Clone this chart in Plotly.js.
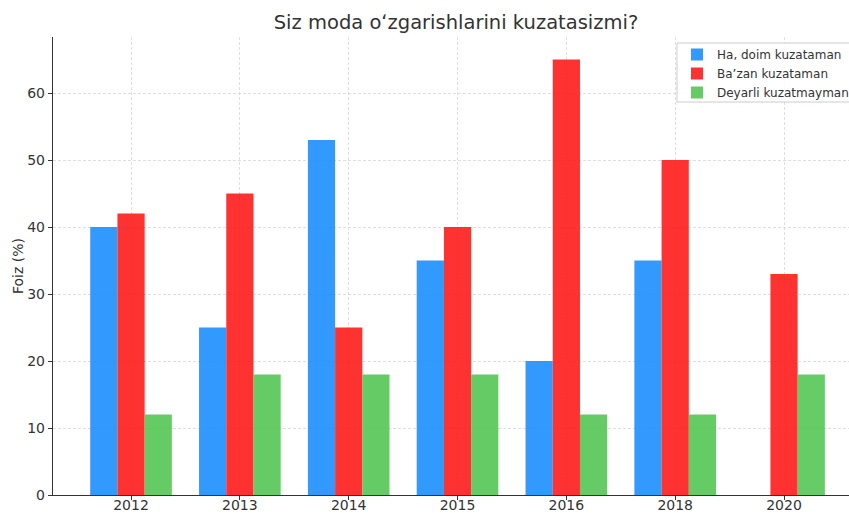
<!DOCTYPE html>
<html>
<head>
<meta charset="utf-8">
<script src="https://cdn.plot.ly/plotly-3.0.1.min.js"></script>
<style>html,body{margin:0;padding:0;background:#fff;}</style>
</head>
<body>
<div id="chart" style="width:849px;height:513px;"></div>
<script>
const years = ["2012", "2013", "2014", "2015", "2016", "2018", "2020"];
const seriesNames = ["Ha, doim kuzataman", "Ba\u2019zan kuzataman", "Deyarli kuzatmayman"];
const always = [40, 25, 53, 35, 20, 35, null];
const sometimes = [42, 45, 25, 40, 65, 50, 33];
const rarely = [12, 18, 18, 18, 12, 12, 18];
const colors = ["#1c8eff", "#ff1c1c", "#55c655"];

const xs = years.map((_, i) => i);
const allSeries = [always, sometimes, rarely];
const traces = allSeries.map((vals, k) => ({
  type: "bar",
  x: xs.map(v => v + (k - 1) * 0.25),
  y: vals,
  width: 0.25,
  name: seriesNames[k],
  opacity: 0.9,
  marker: {color: colors[k], line: {width: 0}},
  hoverinfo: "skip"
}));

const W = 849, H = 513, L = 53, T = 37, B = 18;
const plotH = H - T - B, plotW = W - L;
const font = {family: "DejaVu Sans, sans-serif", color: "#333333", size: 14};
const layout = {
  width: W, height: H,
  margin: {l: L, r: 0, t: T, b: B, autoexpand: false},
  paper_bgcolor: "#ffffff", plot_bgcolor: "#ffffff",
  font: font,
  barmode: "overlay",
  showlegend: true,
  title: {
    text: "Siz moda o\u02bbzgarishlarini kuzatasizmi?",
    font: {family: "DejaVu Sans, sans-serif", size: 19.5, color: "#333333"},
    x: 456 / W, xref: "container", xanchor: "center",
    y: 1 - 22 / H, yref: "container", yanchor: "middle"
  },
  xaxis: {
    range: [-0.717, 6.597],
    tickmode: "array", tickvals: xs, ticktext: years,
    ticks: "outside", ticklen: 4, tickcolor: "#333333",
    ticklabelstandoff: -7,
    showline: true, linecolor: "#333333", linewidth: 1.2,
    showgrid: true, gridcolor: "#d6d6d6", griddash: "3px,2px", gridwidth: 0.8,
    zeroline: false, fixedrange: true,
    tickfont: {size: 14, color: "#333333"}
  },
  yaxis: {
    range: [0, 68.36],
    tickvals: [0, 10, 20, 30, 40, 50, 60],
    ticks: "outside", ticklen: 4, tickcolor: "#333333",
    showline: true, linecolor: "#333333", linewidth: 1.2,
    showgrid: true, gridcolor: "#d6d6d6", griddash: "3px,2px", gridwidth: 0.8,
    zeroline: false, fixedrange: true,
    tickfont: {size: 14, color: "#333333"},
    title: {text: "Foiz (%)", font: {size: 14, color: "#333333"}, standoff: 0}
  },
  shapes: [{
    type: "rect", xref: "paper", yref: "paper", layer: "above",
    x0: (677 - L) / plotW, x1: (W + 12 - L) / plotW,
    y0: (H - B - 102) / plotH, y1: (H - B - 43) / plotH,
    fillcolor: "rgba(255,255,255,0.85)",
    line: {color: "#cccccc", width: 1}
  }],
  legend: {
    x: 677 / W, xref: "container", xanchor: "left",
    y: 1 - 40 / H, yref: "container", yanchor: "top",
    bgcolor: "rgba(0,0,0,0)", borderwidth: 0,
    font: {size: 12, color: "#333333"},
    itemwidth: 30, tracegroupgap: 0
  }
};

Plotly.newPlot("chart", traces, layout, {displayModeBar: false, staticPlot: true});
</script>
</body>
</html>
